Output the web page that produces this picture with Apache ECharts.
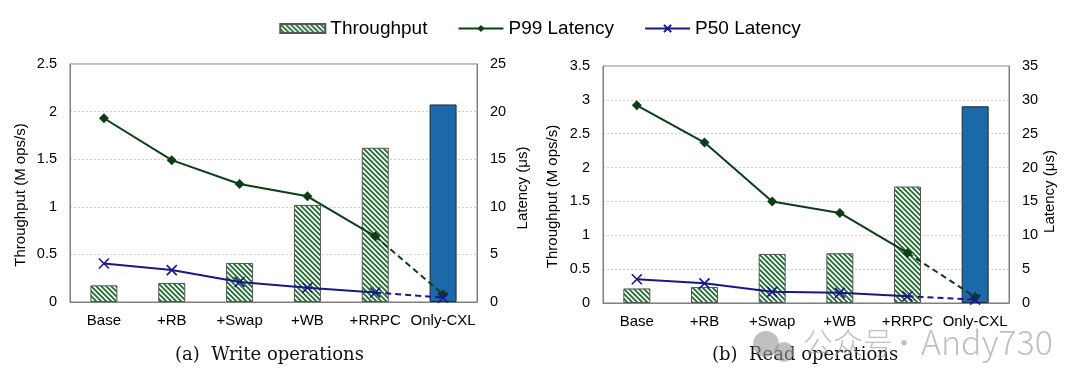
<!DOCTYPE html>
<html>
<head>
<meta charset="utf-8">
<script src="https://cdn.jsdelivr.net/npm/echarts@6/dist/echarts.min.js"></script>
<style>
html,body{margin:0;padding:0;background:#fff;}
#chart{width:1080px;height:388px;}
</style>
</head>
<body>
<div id="chart"></div>
<script>
// ---- data ----
const categories = ['Base', '+RB', '+Swap', '+WB', '+RRPC', 'Only-CXL'];
const writeThroughput = [0.175, 0.2, 0.41, 1.02, 1.62, 2.075];
const writeP99 = [19.3, 14.9, 12.4, 11.1, 6.9, 0.8];
const writeP50 = [4.05, 3.35, 2.1, 1.5, 1.0, 0.45];
const readThroughput = [0.215, 0.235, 0.725, 0.735, 1.72, 2.905];
const readP99 = [29.2, 23.7, 15.0, 13.3, 7.4, 0.9];
const readP50 = [3.5, 2.9, 1.65, 1.5, 1.0, 0.5];
const writeThroughputMax = 2.5, writeLatencyMax = 25;
const readThroughputMax = 3.5, readLatencyMax = 35;
const captions = ['(a)  Write operations', '(b)  Read operations'];
const seriesNames = ['Throughput', 'P99 Latency', 'P50 Latency'];
const watermark = ['公众号', '·', 'Andy730'];

// ---- styles ----
const FONT = '"Liberation Sans", Arial, sans-serif';
const GREEN = '#1f6e30';
const P99C = '#0c3d16';
const P50C = '#17178a';
const CXLC = '#1b69a9';
const X_PATH = 'path://M0,0L10,10M10,0L0,10';

function hatch() {
  const s = 5;
  const c = document.createElement('canvas');
  c.width = s; c.height = s;
  const g = c.getContext('2d');
  g.fillStyle = '#ffffff';
  g.fillRect(0, 0, s, s);
  g.strokeStyle = GREEN;
  g.lineWidth = 1.8;
  g.beginPath();
  g.moveTo(-1, -1); g.lineTo(s + 1, s + 1);
  g.moveTo(-1, s - 1); g.lineTo(1, s + 1);
  g.moveTo(s - 1, -1); g.lineTo(s + 1, 1);
  g.stroke();
  return c;
}
const hatchPattern = { image: hatch(), repeat: 'repeat' };

const last = categories.length - 1;
function solidPart(arr) { return arr.map((v, i) => i < last ? v : null); }
function dashedPart(arr) {
  return arr.map((v, i) => i === last - 1 ? { value: v, symbolSize: 0 } : (i === last ? v : null));
}
function barData(arr) {
  return arr.map((v, i) => i === last ? { value: v, itemStyle: { color: CXLC, borderColor: '#1c2a38' } } : v);
}

const grids = [
  { left: 70, right: 603, top: 64, bottom: 86 },
  { left: 603, right: 71, top: 66, bottom: 85 }
];

function xAxis(gi) {
  return {
    type: 'category', gridIndex: gi, data: categories,
    axisLine: { show: true, lineStyle: { color: '#7f7f7f', width: 1 } },
    axisTick: { show: false },
    axisLabel: { color: '#000', fontFamily: FONT, fontSize: 15, margin: 11, interval: 0 },
    splitLine: { show: false }
  };
}
function yAxis(gi, max, name, right, gap, pad) {
  return {
    type: 'value', gridIndex: gi, min: 0, max: max, interval: max / 5 > 1 ? 5 : 0.5,
    position: right ? 'right' : 'left',
    name: name, nameLocation: 'middle', nameRotate: 90, nameGap: gap,
    nameTextStyle: { color: '#000', fontFamily: FONT, fontSize: 15, padding: pad },
    axisLine: { show: true, lineStyle: { color: '#7f7f7f', width: 1 } },
    axisTick: { show: false },
    axisLabel: { color: '#000', fontFamily: FONT, fontSize: 14.5, margin: 13 },
    splitLine: right ? { show: false } : { show: true, lineStyle: { color: '#d0d0d0', type: [2, 2], width: 1 } }
  };
}

function chartSeries(gi, tp, p99, p50) {
  const xi = gi, yl = gi * 2, yr = gi * 2 + 1;
  return [
    {
      name: seriesNames[0], type: 'bar', xAxisIndex: xi, yAxisIndex: yl, data: barData(tp),
      barWidth: 27,
      itemStyle: { color: hatchPattern, borderColor: '#555', borderWidth: 1 }, z: 1
    },
    {
      name: seriesNames[1], type: 'line', xAxisIndex: xi, yAxisIndex: yr, data: solidPart(p99),
      symbol: 'diamond', symbolSize: 10, lineStyle: { color: P99C, width: 2 },
      itemStyle: { color: P99C }, z: 5
    },
    {
      name: seriesNames[1], type: 'line', xAxisIndex: xi, yAxisIndex: yr, data: dashedPart(p99),
      symbol: 'diamond', symbolSize: 10, lineStyle: { color: P99C, width: 2, type: [6, 4] },
      itemStyle: { color: P99C }, z: 5
    },
    {
      name: seriesNames[2], type: 'line', xAxisIndex: xi, yAxisIndex: yr, data: solidPart(p50),
      symbol: X_PATH, symbolSize: 10, lineStyle: { color: P50C, width: 2 },
      itemStyle: { color: P50C, borderColor: P50C, borderWidth: 1.6 }, z: 6
    },
    {
      name: seriesNames[2], type: 'line', xAxisIndex: xi, yAxisIndex: yr, data: dashedPart(p50),
      symbol: X_PATH, symbolSize: 10, lineStyle: { color: P50C, width: 2, type: [6, 4] },
      itemStyle: { color: P50C, borderColor: P50C, borderWidth: 1.6 }, z: 6
    }
  ];
}

const WM = 'rgba(150,150,150,0.6)';
const chart = echarts.init(document.getElementById('chart'), null, { renderer: 'canvas' });
chart.setOption({
  animation: false,
  backgroundColor: '#fff',
  legend: {
    top: 14, left: 'center', itemWidth: 45, itemHeight: 9, itemGap: 30,
    textStyle: { color: '#000', fontFamily: FONT, fontSize: 19 },
    data: [{ name: seriesNames[0], icon: 'rect' }, seriesNames[1], seriesNames[2]]
  },
  grid: grids.map(g => Object.assign({ show: true, borderColor: '#7f7f7f', borderWidth: 1, containLabel: false }, g)),
  xAxis: [xAxis(0), xAxis(1)],
  yAxis: [
    yAxis(0, writeThroughputMax, 'Throughput (M ops/s)', false, 42, [0, 24, 0, 0]),
    yAxis(0, writeLatencyMax, 'Latency (μs)', true, 38, [0, 10, 0, 0]),
    yAxis(1, readThroughputMax, 'Throughput (M ops/s)', false, 43, [0, 24, 0, 0]),
    yAxis(1, readLatencyMax, 'Latency (μs)', true, 31, [0, 14, 0, 0])
  ],
  series: [].concat(
    chartSeries(0, writeThroughput, writeP99, writeP50),
    chartSeries(1, readThroughput, readP99, readP50)
  ),
  graphic: [
    { type: 'text', left: 175, top: 346, style: { text: captions[0], font: '18px "DejaVu Serif", serif', fill: '#111' } },
    { type: 'text', left: 712, top: 346, style: { text: captions[1], font: '18px "DejaVu Serif", serif', fill: '#111' } },
    { type: 'circle', z: 100, shape: { cx: 766, cy: 344, r: 13 }, style: { fill: WM } },
    { type: 'circle', z: 100, shape: { cx: 784, cy: 352, r: 10 }, style: { fill: WM } },
    { type: 'text', left: 803, top: 328, z: 100, style: { text: watermark[0], font: '300 30px "Noto Sans CJK SC", sans-serif', fill: WM } },
    { type: 'text', left: 889, top: 328, z: 100, style: { text: watermark[1], font: '300 30px "Noto Sans CJK SC", sans-serif', fill: WM } },
    { type: 'text', left: 921, top: 325, z: 100, style: { text: watermark[2], font: '300 34px "Noto Sans CJK SC", sans-serif', fill: WM } }
  ]
});
</script>
</body>
</html>
